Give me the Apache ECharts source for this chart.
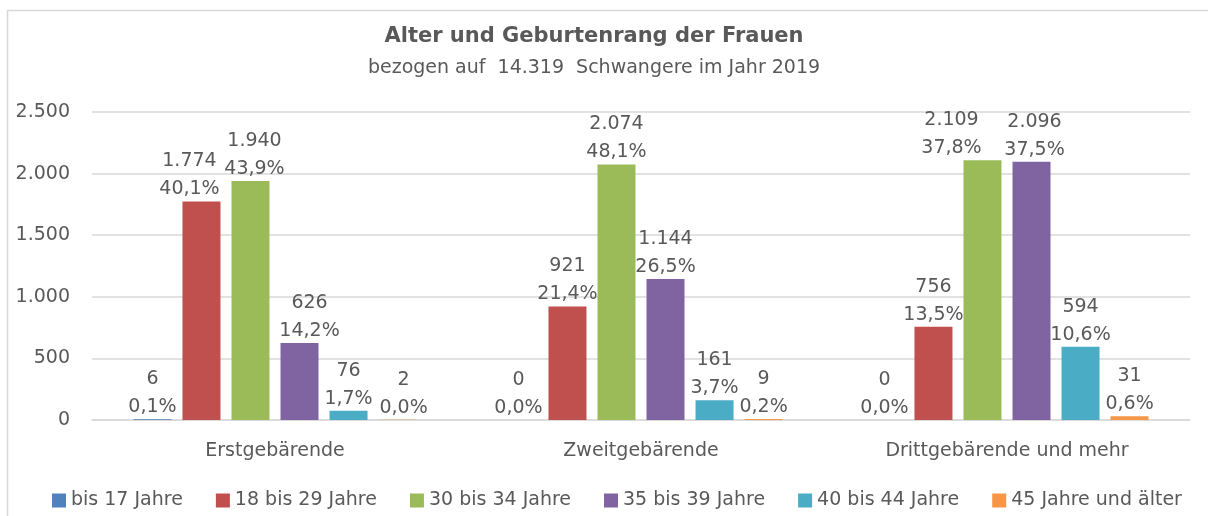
<!DOCTYPE html>
<html>
<head>
<meta charset="utf-8">
<script src="https://cdn.jsdelivr.net/npm/echarts@6/dist/echarts.min.js"></script>
<style>
  html, body { margin: 0; padding: 0; background: #fff; }
  #chart { width: 1208px; height: 516px; }
</style>
</head>
<body>
<div id="chart"></div>
<script>
  // Kategorien und Werte
  const categories = ['Erstgebärende', 'Zweitgebärende', 'Drittgebärende und mehr']
  const seriesNames = ['bis 17 Jahre', '18 bis 29 Jahre', '30 bis 34 Jahre', '35 bis 39 Jahre', '40 bis 44 Jahre', '45 Jahre und älter']
  const bis17 = [6, 0, 0]
  const j18bis29 = [1774, 921, 756]
  const j30bis34 = [1940, 2074, 2109]
  const j35bis39 = [626, 1144, 2096]
  const j40bis44 = [76, 161, 594]
  const ab45 = [2, 9, 31]
  // Prozentwerte je Kategorie
  const pct17 = ['0,1%', '0,0%', '0,0%']
  const pct18 = ['40,1%', '21,4%', '13,5%']
  const pct30 = ['43,9%', '48,1%', '37,8%']
  const pct35 = ['14,2%', '26,5%', '37,5%']
  const pct40 = ['1,7%', '3,7%', '10,6%']
  const pct45 = ['0,0%', '0,2%', '0,6%']
  const yTicks = [0, 500, 1000, 1500, 2000, 2500]

  const values = [bis17, j18bis29, j30bis34, j35bis39, j40bis44, ab45]
  const percents = [pct17, pct18, pct30, pct35, pct40, pct45]
  const colors = ['#4F81BD', '#C0504D', '#9BBB59', '#8064A2', '#4BACC6', '#F79646']

  // horizontale Verschiebung einzelner Beschriftungen (wie in Excel, gegen Überlappung)
  const labelShift = { '1-0': -12, '2-0': 4, '3-0': 10, '5-0': 6, '2-2': -31, '3-2': 3 }

  const fmt = (v) => String(v).replace(/\B(?=(\d{3})+(?!\d))/g, '.')
  const textColor = '#595959'
  const font = '"DejaVu Sans", sans-serif'

  const chart = echarts.init(document.getElementById('chart'))

  chart.setOption({
    animation: false,
    textStyle: { fontFamily: font },
    graphic: [
      {
        type: 'rect',
        shape: { x: 7.5, y: 10.5, width: 1220, height: 520 },
        style: { fill: 'none', stroke: '#D9D9D9', lineWidth: 1.5 },
      },
    ],
    title: {
      text: 'Alter und Geburtenrang der Frauen',
      subtext: 'bezogen auf  14.319  Schwangere im Jahr 2019',
      left: 589,
      textAlign: 'center',
      top: 21,
      itemGap: 12,
      textStyle: { color: textColor, fontSize: 21, fontWeight: 'bold', fontFamily: font },
      subtextStyle: { color: textColor, fontSize: 19, fontFamily: font },
    },
    legend: {
      data: seriesNames,
      top: 486,
      left: 47,
      itemWidth: 14,
      itemHeight: 14,
      itemGap: 33,
      icon: 'rect',
      textStyle: { color: textColor, fontSize: 19, fontFamily: font },
    },
    grid: { left: 92, right: 18, top: 112, bottom: 96 },
    xAxis: {
      type: 'category',
      data: categories,
      axisLine: { lineStyle: { color: '#D9D9D9', width: 1.5 } },
      axisTick: { show: false },
      axisLabel: { color: textColor, fontSize: 19, margin: 22 },
    },
    yAxis: {
      type: 'value',
      min: yTicks[0],
      max: yTicks[yTicks.length - 1],
      interval: 500,
      axisLine: { show: false },
      axisTick: { show: false },
      splitLine: { lineStyle: { color: '#D9D9D9', width: 1.5 } },
      axisLabel: { color: textColor, fontSize: 19, margin: 22, formatter: fmt },
    },
    series: seriesNames.map((name, i) => ({
      name,
      type: 'bar',
      data: values[i].map((v, j) => ({
        value: v,
        label: { offset: [labelShift[i + '-' + j] || 0, 0] },
      })),
      barWidth: 38,
      barGap: '29%',
      itemStyle: { color: colors[i] },
      label: {
        show: true,
        position: 'top',
        distance: -2,
        color: textColor,
        fontSize: 19,
        lineHeight: 28,
        formatter: (p) => fmt(p.value) + '\n' + percents[i][p.dataIndex],
      },
    })),
  })
</script>
</body>
</html>
